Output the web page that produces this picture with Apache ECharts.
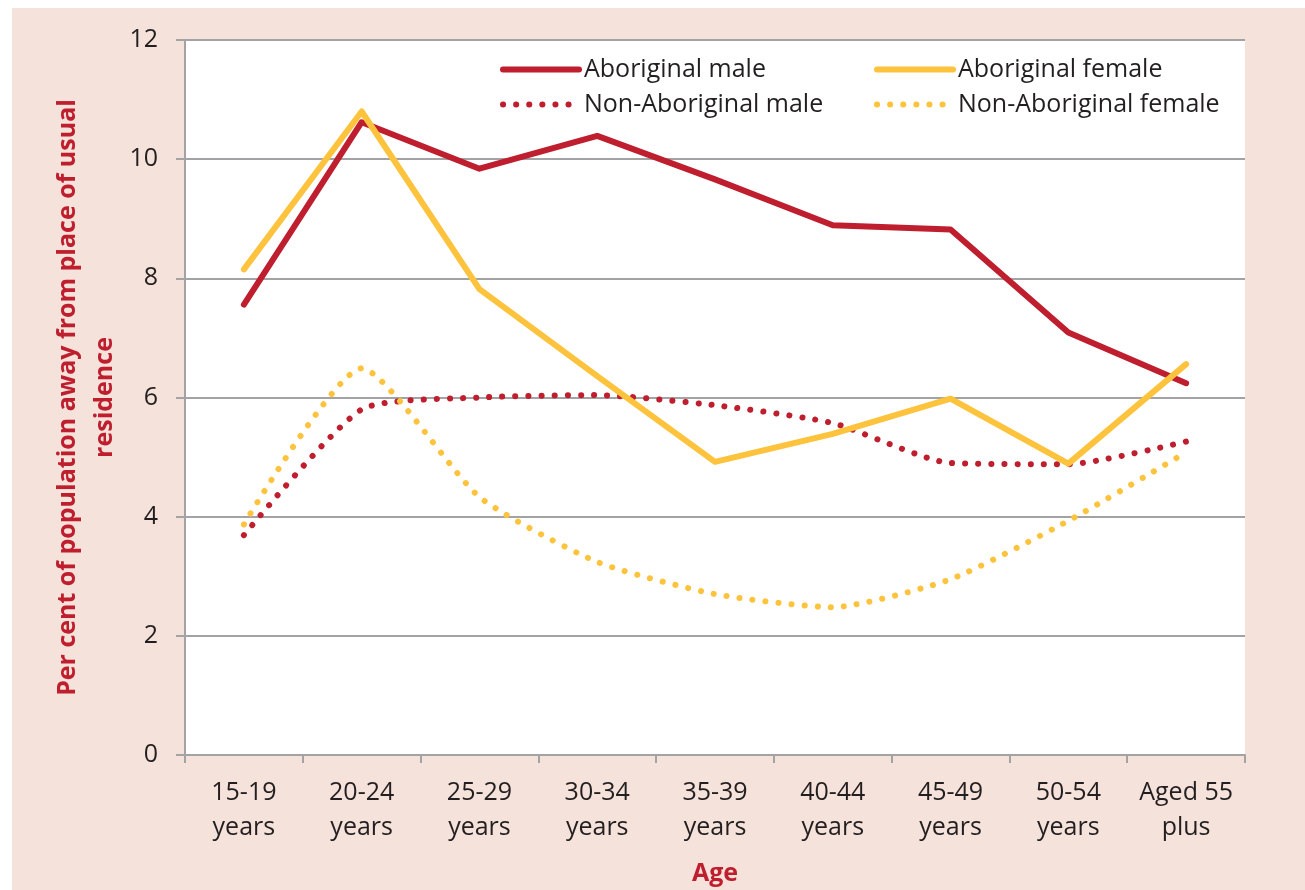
<!DOCTYPE html>
<html>
<head>
<meta charset="utf-8">
<script src="https://cdn.jsdelivr.net/npm/echarts@6/dist/echarts.min.js"></script>
<style>
  html, body { margin: 0; padding: 0; background: #ffffff; }
  #chart { width: 1305px; height: 890px; }
</style>
</head>
<body>
<div id="chart"></div>
<script>
// Age groups along the horizontal axis
const ageGroups = ['15-19\nyears', '20-24\nyears', '25-29\nyears', '30-34\nyears', '35-39\nyears',
                   '40-44\nyears', '45-49\nyears', '50-54\nyears', 'Aged 55\nplus'];

// Per cent of population away from place of usual residence
const aboriginalMale      = [7.56, 10.62, 9.84, 10.39, 9.66, 8.89, 8.82, 7.09, 6.24];
const aboriginalFemale    = [8.15, 10.80, 7.82, 6.36, 4.92, 5.39, 5.98, 4.89, 6.56];
const nonAboriginalMale   = [3.69, 5.80, 6.00, 6.04, 5.87, 5.57, 4.90, 4.88, 5.26];
const nonAboriginalFemale = [3.87, 6.49, 4.33, 3.24, 2.70, 2.48, 2.95, 3.93, 5.08];

const yTicks = [0, 2, 4, 6, 8, 10, 12];

const RED = '#be1e2d';
const YELLOW = '#fdc33d';
const TEXT = '#231f20';
const GRID = '#a3a3a5';
const FONT = '"Open Sans", "Noto Sans", sans-serif';

const LINE_W = 6;
const DOTTED = [0.1, 13];

const chart = echarts.init(document.getElementById('chart'), null, { renderer: 'canvas' });

function lineSeries(name, data, color, dashed) {
  return {
    name: name,
    type: 'line',
    data: data,
    symbol: 'none',
    smooth: dashed ? 0.2 : false,
    lineStyle: {
      color: color,
      width: LINE_W,
      type: dashed ? DOTTED : 'solid',
      cap: 'round',
      join: 'round'
    },
    itemStyle: { color: color },
    emphasis: { disabled: true },
    z: dashed ? 2 : 3
  };
}

function legendItem(name, color, dashed) {
  return {
    name: name,
    itemStyle: { opacity: 0 },
    lineStyle: { color: color, width: LINE_W, type: dashed ? DOTTED : 'solid', cap: 'round' }
  };
}

const legendCommon = {
  orient: 'vertical',
  top: 49,
  itemWidth: 76, itemHeight: 14, itemGap: 4,
  textStyle: { fontFamily: FONT, fontSize: 25, color: TEXT, lineHeight: 31 },
  selectedMode: false
};

chart.setOption({
  animation: false,
  backgroundColor: '#ffffff',
  graphic: [{
    type: 'rect',
    shape: { x: 12, y: 8, width: 1293, height: 882 },
    style: { fill: '#f5e2db' },
    z: -10,
    silent: true
  }],
  grid: {
    left: 185, right: 60, top: 40, bottom: 135,
    outerBoundsMode: 'none',
    containLabel: false,
    show: true, backgroundColor: '#ffffff', borderWidth: 0
  },
  legend: [
    Object.assign({}, legendCommon, {
      left: 495,
      data: [legendItem('Aboriginal male', RED, false), legendItem('Non-Aboriginal male', RED, true)]
    }),
    Object.assign({}, legendCommon, {
      left: 869,
      data: [legendItem('Aboriginal female', YELLOW, false), legendItem('Non-Aboriginal female', YELLOW, true)]
    })
  ],
  xAxis: {
    type: 'category',
    data: ageGroups,
    boundaryGap: true,
    name: 'Age',
    nameLocation: 'middle',
    nameGap: 106,
    nameMoveOverlap: false,
    nameTextStyle: { fontFamily: FONT, fontSize: 25, fontWeight: 'bold', color: RED },
    axisLine: { show: true, lineStyle: { color: GRID, width: 2 } },
    axisTick: { show: true, interval: 0, length: 8, lineStyle: { color: GRID, width: 2 } },
    axisLabel: { interval: 0, fontFamily: FONT, fontSize: 25, color: TEXT, lineHeight: 35, margin: 20 },
    splitLine: { show: false }
  },
  yAxis: {
    type: 'value',
    min: yTicks[0],
    max: yTicks[yTicks.length - 1],
    interval: 2,
    name: 'Per cent of population away from place of usual\nresidence',
    nameLocation: 'middle',
    nameRotate: 90,
    nameGap: 62,
    nameMoveOverlap: false,
    nameTextStyle: { fontFamily: FONT, fontSize: 25, fontWeight: 'bold', color: RED, lineHeight: 37 },
    axisLine: { show: true, lineStyle: { color: GRID, width: 2 } },
    axisTick: { show: true, length: 9, lineStyle: { color: GRID, width: 2 } },
    axisLabel: { fontFamily: FONT, fontSize: 25, color: TEXT, margin: 27 },
    splitLine: { show: true, lineStyle: { color: GRID, width: 2 } }
  },
  series: [
    lineSeries('Aboriginal male', aboriginalMale, RED, false),
    lineSeries('Aboriginal female', aboriginalFemale, YELLOW, false),
    lineSeries('Non-Aboriginal male', nonAboriginalMale, RED, true),
    lineSeries('Non-Aboriginal female', nonAboriginalFemale, YELLOW, true)
  ]
});
</script>
</body>
</html>
